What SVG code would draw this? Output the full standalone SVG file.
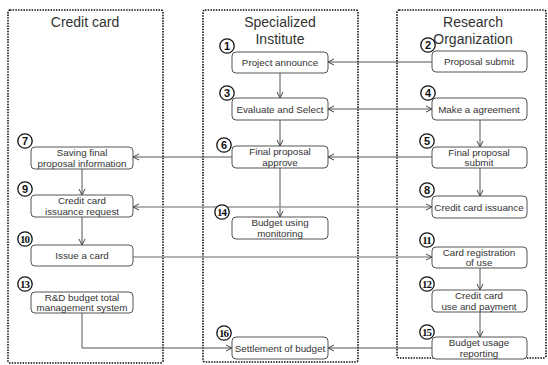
<svg xmlns="http://www.w3.org/2000/svg" width="548" height="365" viewBox="0 0 548 365">
<defs>
<marker id="arr" markerWidth="8" markerHeight="8" refX="7" refY="4" orient="auto-start-reverse" markerUnits="userSpaceOnUse">
<path d="M1,1 L7,4 L1,7" fill="none" stroke="#444" stroke-width="1"/>
</marker>
</defs>
<style>
.lane{fill:none;stroke:#111;stroke-width:1.6;stroke-dasharray:1.5 1.2}
.title{font-family:"Liberation Sans",Arial,sans-serif;font-size:14px;fill:#333;text-anchor:middle}
.box{fill:#fff;stroke:#555;stroke-width:1}
.lbl{font-family:"Liberation Sans",Arial,sans-serif;font-size:9.8px;fill:#333;text-anchor:middle}
.nc{fill:#fff;stroke:#111;stroke-width:1.3}
.num{font-family:"Liberation Sans",Arial,sans-serif;font-size:11px;font-weight:bold;fill:#111;text-anchor:middle}
.num2{font-family:"Liberation Serif",serif;font-size:11px;font-weight:bold;fill:#111;text-anchor:middle;letter-spacing:-0.8px}
.c{fill:none;stroke:#555;stroke-width:1}
.g{fill:none;stroke:#999;stroke-width:1.6}
</style>
<rect width="548" height="365" fill="#fff"/>
<g id="lanes">
<rect class="lane" x="8" y="10" width="155" height="353" rx="2"/>
<rect class="lane" x="203" y="10" width="155" height="352" rx="2"/>
<rect class="lane" x="397" y="10" width="149" height="348" rx="2"/>
<text class="title" x="85" y="27">Credit card</text>
<text class="title" x="280" y="27">Specialized</text>
<text class="title" x="280" y="44">Institute</text>
<text class="title" x="473" y="27">Research</text>
<text class="title" x="473" y="44">Organization</text>
</g>
<g id="connectors">
<line class="c" x1="432" y1="62" x2="328" y2="62" marker-end="url(#arr)"/>
<line class="c" x1="280" y1="73" x2="280" y2="98" marker-end="url(#arr)"/>
<line class="c" x1="328" y1="109" x2="432" y2="109" marker-start="url(#arr)" marker-end="url(#arr)"/>
<line class="c" x1="280" y1="120" x2="280" y2="146" marker-end="url(#arr)"/>
<line class="c" x1="480" y1="120" x2="480" y2="147" marker-end="url(#arr)"/>
<line class="c" x1="432" y1="157" x2="328" y2="157" marker-end="url(#arr)"/>
<line class="c" x1="232" y1="157" x2="133" y2="157" marker-end="url(#arr)"/>
<line class="c" x1="280" y1="168" x2="280" y2="217" marker-end="url(#arr)"/>
<line class="c" x1="82" y1="169" x2="82" y2="195" marker-end="url(#arr)"/>
<line class="c" x1="480" y1="168" x2="480" y2="196" marker-end="url(#arr)"/>
<line class="g" x1="133" y1="207" x2="432" y2="207" marker-start="url(#arr)" marker-end="url(#arr)"/>
<line class="c" x1="82" y1="217" x2="82" y2="245" marker-end="url(#arr)"/>
<line class="g" x1="133" y1="257" x2="432" y2="257" marker-end="url(#arr)"/>
<line class="c" x1="480" y1="268" x2="480" y2="290" marker-end="url(#arr)"/>
<line class="c" x1="480" y1="312" x2="480" y2="337" marker-end="url(#arr)"/>
<line class="c" x1="432" y1="348" x2="328" y2="348" marker-end="url(#arr)"/>
<polyline class="c" points="82,313 82,348 232,348" marker-end="url(#arr)"/>
</g>
<g id="n1"><rect class="box" x="232" y="52" width="96" height="21" rx="4"/><text class="lbl" x="280" y="66">Project announce</text><circle class="nc" cx="227" cy="46" r="7.2"/><text class="num" x="227" y="50">1</text></g>
<g id="n2"><rect class="box" x="432" y="51" width="95" height="21" rx="4"/><text class="lbl" x="479" y="65">Proposal submit</text><circle class="nc" cx="428" cy="45" r="7.2"/><text class="num" x="428" y="49">2</text></g>
<g id="n3"><rect class="box" x="232" y="98" width="96" height="22" rx="4"/><text class="lbl" x="280" y="113">Evaluate and Select</text><circle class="nc" cx="227" cy="93" r="7.2"/><text class="num" x="227" y="97">3</text></g>
<g id="n4"><rect class="box" x="432" y="98" width="95" height="22" rx="4"/><text class="lbl" x="479" y="113">Make a agreement</text><circle class="nc" cx="428" cy="93" r="7.2"/><text class="num" x="428" y="97">4</text></g>
<g id="n5"><rect class="box" x="432" y="147" width="95" height="21" rx="4"/><text class="lbl" x="479" y="156">Final proposal</text><text class="lbl" x="479" y="166">submit</text><circle class="nc" cx="427" cy="141" r="7.2"/><text class="num" x="427" y="145">5</text></g>
<g id="n6"><rect class="box" x="232" y="146" width="96" height="22" rx="4"/><text class="lbl" x="280" y="155">Final proposal</text><text class="lbl" x="280" y="166">approve</text><circle class="nc" cx="224" cy="145" r="7.2"/><text class="num" x="224" y="149">6</text></g>
<g id="n7"><rect class="box" x="31" y="147" width="102" height="22" rx="4"/><text class="lbl" x="82" y="156">Saving final</text><text class="lbl" x="82" y="167">proposal information</text><circle class="nc" cx="25" cy="141" r="7.2"/><text class="num" x="25" y="145">7</text></g>
<g id="n8"><rect class="box" x="432" y="196" width="95" height="22" rx="4"/><text class="lbl" x="479" y="211">Credit card issuance</text><circle class="nc" cx="427" cy="190" r="7.2"/><text class="num" x="427" y="194">8</text></g>
<g id="n9"><rect class="box" x="31" y="195" width="102" height="22" rx="4"/><text class="lbl" x="82" y="204">Credit card</text><text class="lbl" x="82" y="215">issuance request</text><circle class="nc" cx="25" cy="189" r="7.2"/><text class="num" x="25" y="193">9</text></g>
<g id="n10"><rect class="box" x="31" y="245" width="102" height="21" rx="4"/><text class="lbl" x="82" y="259">Issue a card</text><circle class="nc" cx="25" cy="239" r="7.2"/><text class="num2" x="24.6" y="243">10</text></g>
<g id="n11"><rect class="box" x="432" y="247" width="95" height="21" rx="4"/><text class="lbl" x="479" y="256">Card registration</text><text class="lbl" x="479" y="266">of use</text><circle class="nc" cx="427" cy="240" r="7.2"/><text class="num2" x="426.6" y="244">11</text></g>
<g id="n12"><rect class="box" x="432" y="290" width="95" height="22" rx="4"/><text class="lbl" x="479" y="299">Credit card</text><text class="lbl" x="479" y="310">use and payment</text><circle class="nc" cx="427" cy="284" r="7.2"/><text class="num2" x="426.6" y="288">12</text></g>
<g id="n13"><rect class="box" x="31" y="292" width="102" height="21" rx="4"/><text class="lbl" x="82" y="301">R&amp;D budget total</text><text class="lbl" x="82" y="311">management system</text><circle class="nc" cx="25" cy="284" r="7.2"/><text class="num2" x="24.6" y="288">13</text></g>
<g id="n14"><rect class="box" x="232" y="217" width="96" height="22" rx="4"/><text class="lbl" x="280" y="226">Budget using</text><text class="lbl" x="280" y="237">monitoring</text><circle class="nc" cx="222" cy="212" r="7.2"/><text class="num2" x="221.6" y="216">14</text></g>
<g id="n15"><rect class="box" x="432" y="337" width="95" height="22" rx="4"/><text class="lbl" x="479" y="346">Budget usage</text><text class="lbl" x="479" y="357">reporting</text><circle class="nc" cx="427" cy="332" r="7.2"/><text class="num2" x="426.6" y="336">15</text></g>
<g id="n16"><rect class="box" x="232" y="337" width="96" height="22" rx="4"/><text class="lbl" x="280" y="352">Settlement of budget</text><circle class="nc" cx="224" cy="333" r="7.2"/><text class="num2" x="223.6" y="337">16</text></g>
</svg>
